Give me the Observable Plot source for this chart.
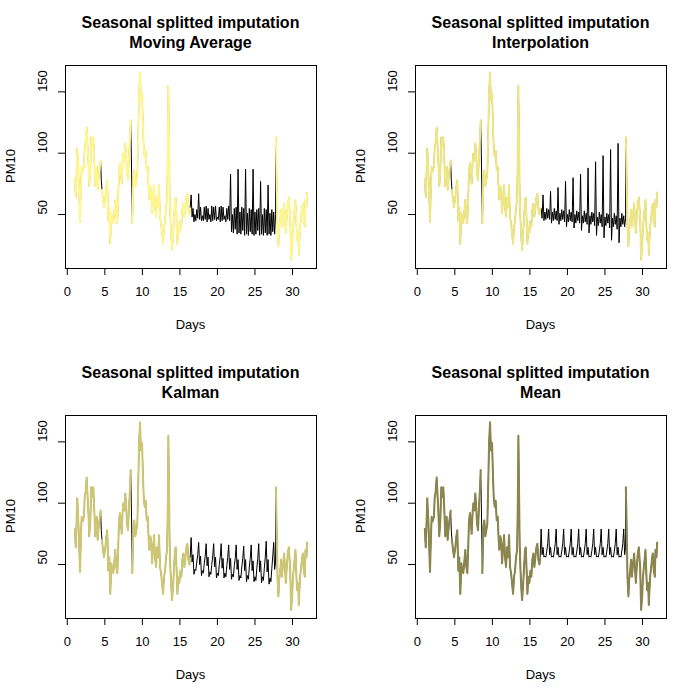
<!DOCTYPE html>
<html><head><meta charset="utf-8">
<script src="https://cdn.jsdelivr.net/npm/d3@7"></script>
<script src="https://cdn.jsdelivr.net/npm/@observablehq/plot@0.6"></script>
<style>
body{margin:0;background:#fff;font-family:"Liberation Sans",Arial,sans-serif;}
#grid{display:grid;grid-template-columns:350px 350px;width:700px;}
#grid svg{display:block;}
</style></head><body><div id="grid"></div>
<script>
// Observed PM10 (days, values)
const obsDays = [1.0,1.06,1.12,1.24,1.33,1.47,1.6,1.69,1.82,1.91,
2.04,2.22,2.31,2.44,2.58,2.71,2.8,2.93,3.07,3.2,
3.33,3.47,3.6,3.73,3.91,4.04,4.22,4.44,4.53,4.62,
4.76,4.89,5.07,5.2,5.33,5.47,5.6,5.73,5.87,6,
6.13,6.27,6.4,6.53,6.67,6.8,6.89,7.02,7.16,7.24,
7.38,7.47,7.6,7.73,7.82,7.96,8.09,8.22,8.36,8.44,
8.53,8.67,8.8,8.93,9.07,9.2,9.33,9.47,9.56,9.69,
9.82,9.96,10.09,10.18,10.31,10.44,10.58,10.71,10.84,10.93,
11.07,11.2,11.29,11.42,11.56,11.69,11.82,11.96,12.09,12.22,
12.36,12.49,12.62,12.76,12.89,13.02,13.16,13.29,13.38,13.47,
13.56,13.64,13.73,13.87,13.96,14.09,14.22,14.36,14.44,14.58,
14.67,14.8,14.93,15.07,15.2,15.33,15.47,15.6,15.73,15.87,
16,16.13,16.27,16.36,
27.78,27.87,28,28.13,28.22,28.36,28.49,28.58,28.71,28.89,
29.02,29.11,29.24,29.38,29.51,29.6,29.69,29.82,29.96,30.04,
30.18,30.31,30.4,30.53,30.62,30.76,30.84,30.93,31.02,31.16,
31.29,31.38,31.51,31.64,31.73,31.87,31.96];
const obsPM10 = [79,71,64,86,104,86,62,44,73,89,
85,89,104,109,121,105,94,73,86,113,
105,113,94,73,89,70,83,94,78,70,
62,56,64,73,78,45,56,26,51,45,
43,53,62,48,43,67,86,92,83,75,
94,100,94,108,100,83,78,97,113,127,
100,43,81,86,73,78,83,121,149,166,
143,149,121,105,97,102,86,89,70,62,
73,67,51,62,74,56,48,64,56,74,
48,43,35,26,40,45,56,62,94,155,
108,67,48,29,21,32,48,62,64,43,
26,40,35,45,40,54,59,48,56,64,
67,54,50,55,
113,89,40,24,37,45,54,40,48,59,
45,35,48,59,64,56,48,13,24,37,
48,56,62,40,29,35,17,29,40,48,
56,59,45,40,62,56,68];
// short missing stretches inside the observed part
const naDays = [4.53, 8.53];

// Imputed stretch
const impDays = [16.5,16.625,16.75,16.875,
17,17.125,17.25,17.375,17.5,17.625,17.75,17.875,
18,18.125,18.25,18.375,18.5,18.625,18.75,18.875,
19,19.125,19.25,19.375,19.5,19.625,19.75,19.875,
20,20.125,20.25,20.375,20.5,20.625,20.75,20.875,
21,21.125,21.25,21.375,21.5,21.625,21.75,21.875,
22,22.125,22.25,22.375,22.5,22.625,22.75,22.875,
23,23.125,23.25,23.375,23.5,23.625,23.75,23.875,
24,24.125,24.25,24.375,24.5,24.625,24.75,24.875,
25,25.125,25.25,25.375,25.5,25.625,25.75,25.875,
26,26.125,26.25,26.375,26.5,26.625,26.75,26.875,
27,27.125,27.25,27.375,27.5,27.625,27.75];
const impMovingAverage = [66,48,55,44,
50,45,54,47,67,46,56,45,
49,45,56,46,57,44,55,46,
50,44,57,45,56,46,57,45,
48,46,56,44,57,45,56,46,
49,44,55,46,57,45,83,36,
50,35,55,38,56,34,87,35,
52,34,56,37,55,33,87,34,
51,33,55,36,54,34,87,33,
52,34,54,37,55,33,77,34,
50,33,55,35,54,33,74,34,
51,33,54,36,52,34,50];
const impInterpolation = [55,47,66,45,
52,46,55,47,54,46,69,43,
52,45,55,46,53,45,72,42,
51,45,54,46,53,44,77,40,
50,44,54,45,52,44,80,39,
50,43,53,45,52,43,83,37,
49,43,53,44,51,42,88,35,
49,42,52,44,51,41,93,33,
48,41,52,43,50,40,98,31,
48,41,51,43,50,39,103,29,
47,40,51,42,49,38,108,27,
47,40,51,42,49,40,47];
const impKalman = [72,52,58,42,
46,45,52,58,68,50,57,41,
45,43,51,57,67,49,56,40,
44,42,50,57,67,48,56,39,
43,41,50,56,67,47,55,39,
43,40,49,56,66,46,55,38,
42,40,49,55,66,46,54,37,
41,39,48,55,65,45,54,36,
41,38,48,55,66,45,53,36,
40,37,47,55,67,44,53,35,
40,37,47,56,69,44,54,34,
39,36,47,57,68,46,52];
const impMean = [79,58,64,56,
57,56,61,67,79,58,64,56,
57,56,61,67,79,58,64,56,
57,56,61,67,79,58,64,56,
57,56,61,67,79,58,64,56,
57,56,61,67,79,58,64,56,
57,56,61,67,79,58,64,56,
57,56,61,67,79,58,64,56,
57,56,61,67,79,58,64,56,
57,56,61,67,79,58,64,56,
57,56,61,67,79,58,64,56,
57,56,61,67,79,58,64];

const mainTitle = "Seasonal splitted imputation";
const methodNames = ["Moving Average","Interpolation","Kalman","Mean"];
const methodColors = ["#FFF68F","#EEE685","#CDC673","#8B864E"];
const xTicks = [0,5,10,15,20,25,30];
const yTicks = [50,100,150];
const xLabel = "Days", yLabel = "PM10";

const imputedSets = [impMovingAverage, impInterpolation, impKalman, impMean];

const obs = obsDays.map((d,i)=>({day:d, v: naDays.includes(d) ? NaN : obsPM10[i], seg: d < 22 ? 0 : 1}));
const grid = document.getElementById("grid");

methodNames.forEach((name, p) => {
  const imp = impDays.map((d,i)=>({day:d, v:imputedSets[p][i]}));
  const full = obsDays.map((d,i)=>({day:d, v:obsPM10[i]})).concat(imp).sort((a,b)=>a.day-b.day);
  const svg = Plot.plot({
    width:350, height:350,
    marginLeft:65, marginRight:34, marginTop:65, marginBottom:82,
    x:{domain:[-0.24,33.2]},
    y:{domain:[6,171.5]},
    style:{fontFamily:"Liberation Sans, Arial, sans-serif", fontSize:"13px", color:"black", background:"white", overflow:"visible"},
    marks:[
      Plot.line(full,{x:"day", y:"v", stroke:"black", strokeWidth:1}),
      Plot.line(obs,{x:"day", y:"v", z:"seg", stroke:methodColors[p], strokeWidth:2}),
      Plot.frame({stroke:"black"}),
      Plot.axisX({ticks:xTicks, tickSize:7, tickPadding:11, label:null}),
      Plot.axisY({ticks:yTicks, tickSize:7, tickFormat:()=>"", label:null}),
      Plot.text(yTicks,{y:d=>d, text:d=>String(d), frameAnchor:"left", dx:-23, rotate:-90, fontSize:13, fill:"black"})
    ]
  });
  const s = d3.select(svg);
  s.append("text").attr("x",190.5).attr("y",28).attr("text-anchor","middle")
    .attr("font-weight","bold").attr("font-size",16).attr("fill","black").text(mainTitle);
  s.append("text").attr("x",190.5).attr("y",48).attr("text-anchor","middle")
    .attr("font-weight","bold").attr("font-size",16).attr("fill","black").text(name);
  s.append("text").attr("x",190.5).attr("y",329).attr("text-anchor","middle")
    .attr("font-size",13).attr("fill","black").text(xLabel);
  s.append("text").attr("transform","translate(15,166) rotate(-90)").attr("text-anchor","middle")
    .attr("font-size",13).attr("fill","black").text(yLabel);
  grid.appendChild(svg);
});
</script></body></html>
